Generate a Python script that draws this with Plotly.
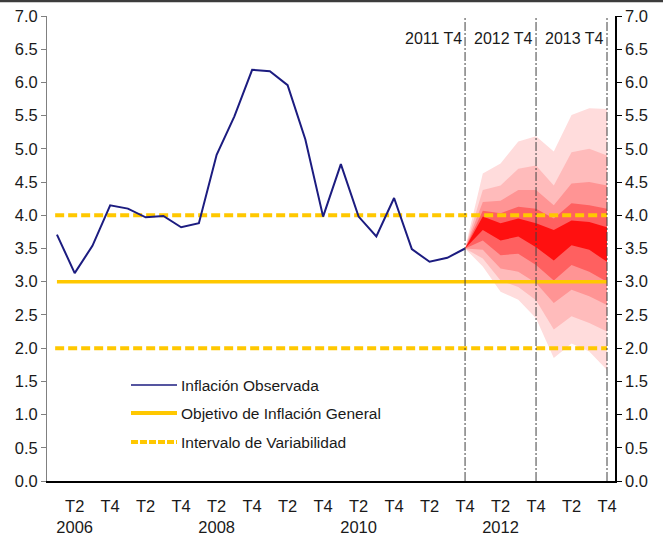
import plotly.graph_objects as go

# ---------------- data ----------------
quarters = [f"{y}T{q}" for y in range(2006, 2014) for q in range(1, 5)]

observed = [3.71, 3.13, 3.54, 4.15, 4.10, 3.97, 3.99, 3.82,
            3.88, 4.91, 5.49, 6.19, 6.17, 5.96, 5.14, 3.98,
            4.77, 3.98, 3.68, 4.26, 3.49, 3.30, 3.36, 3.50]

fan_quarters = ["2011T4", "2012T1", "2012T2", "2012T3", "2012T4",
                "2013T1", "2013T2", "2013T3", "2013T4"]
fan_u1 = [3.50, 4.63, 4.78, 5.11, 5.19, 4.96, 5.51, 5.61, 5.60]
fan_u2 = [3.50, 4.38, 4.45, 4.70, 4.75, 4.45, 4.95, 5.00, 4.90]
fan_u3 = [3.50, 4.20, 4.22, 4.38, 4.38, 4.15, 4.48, 4.50, 4.45]
fan_u4 = [3.50, 4.07, 4.03, 4.13, 4.10, 3.95, 4.18, 4.15, 4.10]
fan_u5 = [3.50, 3.98, 3.88, 3.95, 3.88, 3.78, 3.92, 3.90, 3.82]
fan_l5 = [3.50, 3.78, 3.62, 3.68, 3.52, 3.32, 3.55, 3.48, 3.30]
fan_l4 = [3.50, 3.62, 3.40, 3.42, 3.25, 3.02, 3.25, 3.15, 3.00]
fan_l3 = [3.50, 3.48, 3.20, 3.15, 2.98, 2.68, 2.88, 2.78, 2.65]
fan_l2 = [3.50, 3.35, 3.02, 2.92, 2.72, 2.28, 2.48, 2.38, 2.25]
fan_l1 = [3.50, 3.23, 2.85, 2.73, 2.45, 1.85, 2.07, 1.95, 1.67]

target = 3.0
interval_low = 2.0
interval_high = 4.0

tick_quarters = ["2006T2", "2006T4", "2007T2", "2007T4", "2008T2", "2008T4",
                 "2009T2", "2009T4", "2010T2", "2010T4", "2011T2", "2011T4",
                 "2012T2", "2012T4", "2013T2", "2013T4"]
tick_text = ["T2<br>2006", "T4", "T2", "T4", "T2<br>2008", "T4", "T2", "T4",
             "T2<br>2010", "T4", "T2", "T4", "T2<br>2012", "T4", "T2", "T4"]

marker_quarters = ["2011T4", "2012T4", "2013T4"]
marker_labels = ["2011 T4", "2012 T4", "2013 T4"]

legend_labels = ["Inflación Observada", "Objetivo de Inflación General",
                 "Intervalo de Variabilidad"]

# ---------------- figure ----------------
FONT = "Liberation Sans, Arial, sans-serif"
TXT = "#1a1a1a"
GOLD = "#FFC800"
NAVY = "#1C1C80"

xi = {q: i for i, q in enumerate(quarters)}
x_obs = list(range(len(observed)))
x_fan = [xi[q] for q in fan_quarters]
x_first, x_last = 0, len(quarters) - 1

fig = go.Figure()

bands = [(fan_u1, fan_l1, "#FFDCDC"), (fan_u2, fan_l2, "#FFBBBB"),
         (fan_u3, fan_l3, "#FF9494"), (fan_u4, fan_l4, "#FF6060"),
         (fan_u5, fan_l5, "#FF1010")]
for up, lo, col in bands:
    fig.add_trace(go.Scatter(
        x=x_fan + x_fan[::-1], y=up + lo[::-1], mode="lines",
        fill="toself", fillcolor=col, line=dict(width=0, color=col),
        hoverinfo="skip", showlegend=False))

fig.add_trace(go.Scatter(x=[x_first, x_last], y=[target, target], mode="lines",
                         line=dict(color=GOLD, width=3.5), showlegend=False))
for v in (interval_low, interval_high):
    fig.add_trace(go.Scatter(x=[x_first - 0.1, x_last], y=[v, v], mode="lines",
                             line=dict(color=GOLD, width=4, dash="9px,4px"),
                             showlegend=False))
fig.add_trace(go.Scatter(x=x_obs, y=observed, mode="lines",
                         line=dict(color=NAVY, width=2), showlegend=False))

# dummy trace for secondary (right) axis
fig.add_trace(go.Scatter(x=[x_first], y=[0], yaxis="y2", mode="markers",
                         marker=dict(opacity=0), hoverinfo="skip", showlegend=False))

shapes = []
for q in marker_quarters:
    shapes.append(dict(type="line", xref="x", yref="y", x0=xi[q], x1=xi[q],
                       y0=0, y1=7, layer="above",
                       line=dict(color="#404040", width=1, dash="9px,2px,2px,2px")))
# top frame bar
shapes.append(dict(type="line", xref="paper", yref="paper", x0=-0.09, x1=1.09,
                   y0=1.0323, y1=1.0323, line=dict(color="#3c3c3c", width=2.5)))

annotations = []
for q, lab in zip(marker_quarters, marker_labels):
    annotations.append(dict(x=xi[q], y=6.66, xref="x", yref="y", text=lab,
                            showarrow=False, xanchor="right", yanchor="middle",
                            xshift=-1, font=dict(family=FONT, size=16, color=TXT)))

# manual legend
PW, PH = 568.0, 465.0
def px(x):
    return (x - 47) / PW
def py(y):
    return (481 - y) / PH

leg_rows = [385, 413, 442]
leg_styles = [dict(color=NAVY, width=1.5),
              dict(color=GOLD, width=4),
              dict(color=GOLD, width=4, dash="7px,2px")]
for row, style, lab in zip(leg_rows, leg_styles, legend_labels):
    shapes.append(dict(type="line", xref="paper", yref="paper",
                       x0=px(131), x1=px(177), y0=py(row), y1=py(row), line=style))
    annotations.append(dict(x=px(179), y=py(row), xref="paper", yref="paper",
                            text=lab, showarrow=False, xanchor="left",
                            yanchor="middle",
                            font=dict(family=FONT, size=15.5, color=TXT)))

yaxis_common = dict(range=[0, 7], dtick=0.5, tick0=0, tickformat=".1f",
                    showgrid=False, zeroline=False, ticks="outside", ticklen=5,
                    tickfont=dict(family=FONT, size=16.5, color=TXT), showline=True,
                    automargin=False)

fig.update_layout(
    width=663, height=554,
    margin=dict(l=47, r=48, t=16, b=73, autoexpand=False),
    paper_bgcolor="white", plot_bgcolor="white",
    showlegend=False,
    shapes=shapes, annotations=annotations,
    xaxis=dict(range=[-0.56, 31.45], tickvals=[xi[q] for q in tick_quarters],
               ticktext=tick_text, ticks="", showgrid=False, zeroline=False,
               showline=True, linecolor="black", linewidth=2,
               tickfont=dict(family=FONT, size=16.5, color=TXT),
               ticklabelstandoff=9, automargin=False),
    yaxis=dict(**yaxis_common, side="left", linecolor="#808080", linewidth=1,
               tickcolor="#808080"),
    yaxis2=dict(**yaxis_common, side="right", overlaying="y", linecolor="black",
                linewidth=1.5, tickcolor="black"),
)

fig.write_html("out.html", config={"displayModeBar": False},
               post_script="document.body.style.margin='0';document.body.style.padding='0';")
